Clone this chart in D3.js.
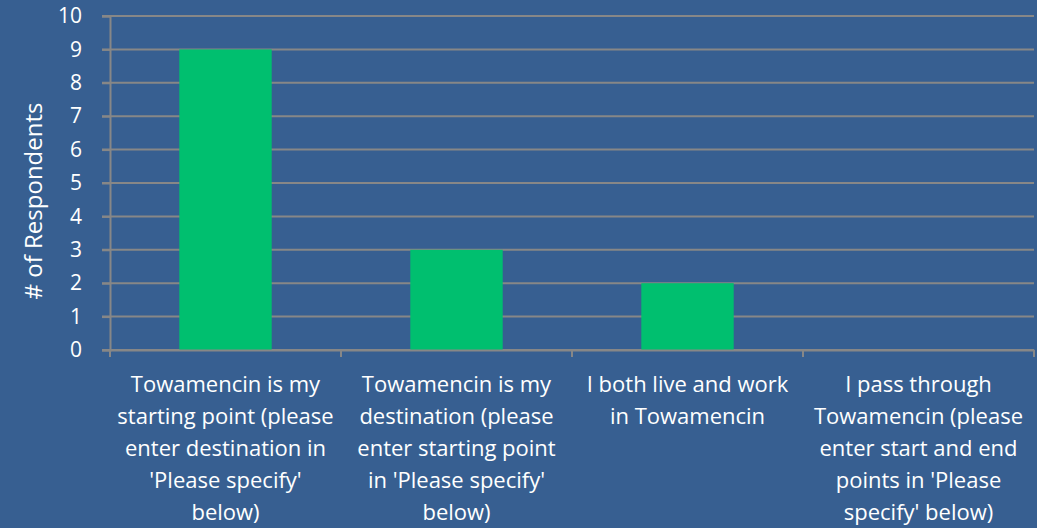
<!DOCTYPE html>
<html>
<head>
<meta charset="utf-8">
<script src="https://cdn.jsdelivr.net/npm/d3@7"></script>
<style>
  html, body { margin: 0; padding: 0; background: #375F91; }
  svg { display: block; }
  text { font-family: "Open Sans", "Noto Sans", sans-serif; fill: #ffffff; }
</style>
</head>
<body>
<svg id="chart" width="1037" height="528"></svg>
<script>
const categories = [
  "Towamencin is my\nstarting point (please\nenter destination in\n'Please specify'\nbelow)",
  "Towamencin is my\ndestination (please\nenter starting point\nin 'Please specify'\nbelow)",
  "I both live and work\nin Towamencin",
  "I pass through\nTowamencin (please\nenter start and end\npoints in 'Please\nspecify' below)"
];
const values = [9, 3, 2, 0];
const yTicks = [0, 1, 2, 3, 4, 5, 6, 7, 8, 9, 10];
const yTitle = "# of Respondents";

const W = 1037, H = 528;
const margin = { left: 110, right: 3, top: 16, bottom: 178 };
const svg = d3.select("#chart");
svg.append("rect").attr("width", W).attr("height", H).attr("fill", "#375F91");

const x = d3.scaleBand().domain(categories).range([margin.left, W - margin.right]).paddingInner(0).paddingOuter(0);
const y = d3.scaleLinear().domain([0, 10]).range([H - margin.bottom, margin.top]);

const gridColor = "#878787";

// gridlines
svg.append("g").selectAll("line").data(yTicks).join("line")
  .attr("x1", margin.left - 8).attr("x2", W - margin.right)
  .attr("y1", d => y(d)).attr("y2", d => y(d))
  .attr("stroke", gridColor).attr("stroke-width", 2);

// y axis
const yAxis = svg.append("g").attr("transform", `translate(${margin.left},0)`)
  .call(d3.axisLeft(y).tickValues(yTicks).tickSize(8).tickPadding(20).tickFormat(d3.format("d")));
yAxis.select(".domain").attr("stroke", gridColor).attr("stroke-width", 2);
yAxis.selectAll(".tick line").attr("stroke", gridColor).attr("stroke-width", 2);
yAxis.selectAll(".tick text").attr("fill", "#fff").style("font-size", "21px").style("font-family", "'Open Sans', sans-serif");

// bars
const barFrac = 0.4;
svg.append("g").selectAll("rect").data(values).join("rect")
  .attr("x", (d, i) => x(categories[i]) + x.bandwidth() * (1 - barFrac) / 2)
  .attr("width", x.bandwidth() * barFrac)
  .attr("y", d => y(d))
  .attr("height", d => y(0) - y(d))
  .attr("fill", "#00BF6F");

// x axis
const xAxis = svg.append("g").attr("transform", `translate(0,${y(0)})`)
  .call(d3.axisBottom(x).tickSize(0).tickFormat(""));
xAxis.select(".domain").attr("stroke", gridColor).attr("stroke-width", 2);
const boundaries = categories.map(c => x(c)).concat([W - margin.right]);
xAxis.append("g").selectAll("line").data(boundaries).join("line")
  .attr("x1", d => d).attr("x2", d => d).attr("y1", 0).attr("y2", 7)
  .attr("stroke", gridColor).attr("stroke-width", 2);

// x labels
const lab = svg.append("g");
categories.forEach(c => {
  const lines = c.split("\n");
  const t = lab.append("text")
    .attr("x", x(c) + x.bandwidth() / 2)
    .attr("y", 392)
    .attr("text-anchor", "middle")
    .style("font-size", "22px");
  lines.forEach((ln, j) => {
    t.append("tspan").attr("x", x(c) + x.bandwidth() / 2).attr("dy", j === 0 ? 0 : 32).text(ln);
  });
});

// y title
svg.append("text")
  .attr("transform", `translate(42,201) rotate(-90)`)
  .attr("text-anchor", "middle")
  .style("font-size", "24px")
  .text(yTitle);
</script>
</body>
</html>
